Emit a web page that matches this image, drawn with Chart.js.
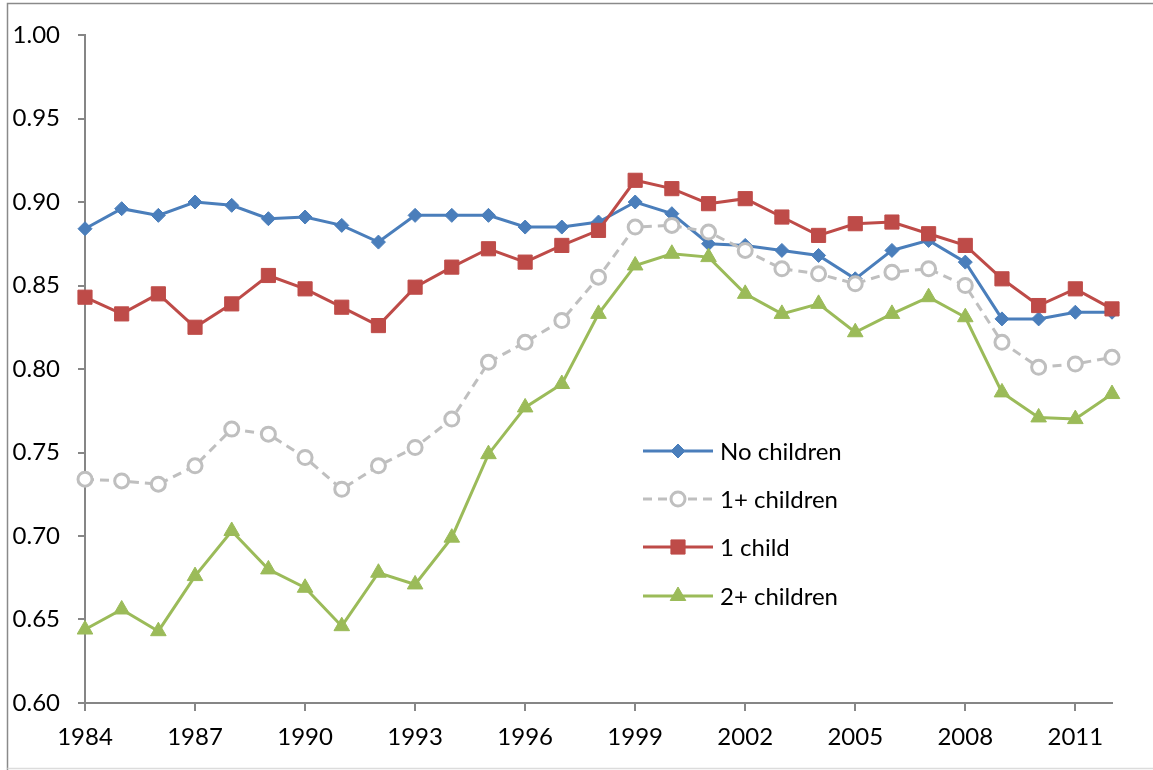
<!DOCTYPE html>
<html>
<head>
<meta charset="utf-8">
<script src="https://cdn.jsdelivr.net/npm/chart.js@4/dist/chart.umd.min.js"></script>
<style>
  html, body { margin: 0; padding: 0; background: #fff; }
  #wrap { position: relative; width: 1153px; height: 770px; overflow: hidden; }
</style>
</head>
<body>
<div id="wrap"><canvas id="chart" width="1153" height="770"></canvas></div>
<script>
// years on the x axis
const years = [1984, 1985, 1986, 1987, 1988, 1989, 1990, 1991, 1992, 1993, 1994, 1995, 1996, 1997,
               1998, 1999, 2000, 2001, 2002, 2003, 2004, 2005, 2006, 2007, 2008, 2009, 2010, 2011, 2012];

const noChildren = [0.884, 0.896, 0.892, 0.900, 0.898, 0.890, 0.891, 0.886, 0.876, 0.892, 0.892, 0.892, 0.885, 0.885,
                    0.888, 0.900, 0.893, 0.875, 0.874, 0.871, 0.868, 0.854, 0.871, 0.877, 0.864, 0.830, 0.830, 0.834, 0.834];
const onePlusChildren = [0.734, 0.733, 0.731, 0.742, 0.764, 0.761, 0.747, 0.728, 0.742, 0.753, 0.770, 0.804, 0.816, 0.829,
                         0.855, 0.885, 0.886, 0.882, 0.871, 0.860, 0.857, 0.851, 0.858, 0.860, 0.850, 0.816, 0.801, 0.803, 0.807];
const oneChild = [0.843, 0.833, 0.845, 0.825, 0.839, 0.856, 0.848, 0.837, 0.826, 0.849, 0.861, 0.872, 0.864, 0.874,
                  0.883, 0.913, 0.908, 0.899, 0.902, 0.891, 0.880, 0.887, 0.888, 0.881, 0.874, 0.854, 0.838, 0.848, 0.836];
const twoPlusChildren = [0.644, 0.656, 0.643, 0.676, 0.703, 0.680, 0.669, 0.646, 0.678, 0.671, 0.699, 0.749, 0.777, 0.791,
                         0.833, 0.862, 0.869, 0.867, 0.845, 0.833, 0.839, 0.822, 0.833, 0.843, 0.831, 0.786, 0.771, 0.770, 0.785];

const seriesNames = ['No children', '1+ children', '1 child', '2+ children'];
const yTicks = [0.60, 0.65, 0.70, 0.75, 0.80, 0.85, 0.90, 0.95, 1.00];
const xTicks = [1984, 1987, 1990, 1993, 1996, 1999, 2002, 2005, 2008, 2011];

const FONT = 'Lato, "Open Sans", sans-serif';
const AXIS = '#868686';

const toPoints = vals => years.map((yr, i) => ({ x: yr, y: vals[i] }));

// 見た目の設定 (Excel風)
const styles = [
  { color: '#4A7EBB', fill: '#4A7EBB', pointStyle: 'rectRot', radius: 7, dash: [], order: 3 },
  { color: '#BFBFBF', fill: '#FFFFFF', pointStyle: 'circle', radius: 7, dash: [9, 6], order: 2 },
  { color: '#BE4B48', fill: '#BE4B48', pointStyle: 'rect', radius: 10, dash: [], order: 1 },
  { color: '#9BBB59', fill: '#9BBB59', pointStyle: 'triangle', radius: 9, dash: [], order: 0 }
];
const allValues = [noChildren, onePlusChildren, oneChild, twoPlusChildren];

const datasets = allValues.map((vals, i) => ({
  label: seriesNames[i],
  data: toPoints(vals),
  borderColor: styles[i].color,
  backgroundColor: styles[i].fill,
  borderWidth: 3,
  borderDash: styles[i].dash,
  pointStyle: styles[i].pointStyle,
  pointRadius: styles[i].radius,
  pointHoverRadius: styles[i].radius,
  pointBackgroundColor: styles[i].fill,
  pointBorderColor: styles[i].color,
  pointBorderWidth: styles[i].pointStyle === 'circle' ? 3 : 1,
  tension: 0,
  clip: false,
  order: styles[i].order
}));

// 外枠
const framePlugin = {
  id: 'frame',
  beforeDraw(chart) {
    const ctx = chart.ctx;
    ctx.save();
    ctx.fillStyle = '#fff';
    ctx.fillRect(0, 0, chart.width, chart.height);
    ctx.strokeStyle = '#8a8a8a';
    ctx.lineWidth = 1.5;
    ctx.beginPath();
    ctx.moveTo(7.5, chart.height);
    ctx.lineTo(7.5, 3.5);
    ctx.lineTo(chart.width, 3.5);
    ctx.stroke();
    ctx.strokeStyle = '#dcdcdc';
    ctx.beginPath();
    ctx.moveTo(7.5, 768.5);
    ctx.lineTo(chart.width, 768.5);
    ctx.stroke();
    ctx.restore();
  }
};

// 凡例 (グラフ内に配置)
const legendPlugin = {
  id: 'insideLegend',
  afterDraw(chart) {
    const ctx = chart.ctx;
    const x0 = 643, x1 = 713, tx = 720;
    const rows = [451, 499, 547, 596];
    ctx.save();
    chart.data.datasets.forEach((ds, i) => {
      const y = rows[i];
      ctx.strokeStyle = ds.borderColor;
      ctx.lineWidth = ds.borderWidth;
      ctx.setLineDash(ds.borderDash || []);
      ctx.beginPath();
      ctx.moveTo(x0, y);
      ctx.lineTo(x1, y);
      ctx.stroke();
      ctx.setLineDash([]);
      ctx.fillStyle = ds.pointBackgroundColor;
      ctx.strokeStyle = ds.pointBorderColor;
      ctx.lineWidth = ds.pointBorderWidth;
      Chart.helpers.drawPoint(ctx, {
        pointStyle: ds.pointStyle, radius: ds.pointRadius, rotation: 0, borderWidth: ds.pointBorderWidth
      }, (x0 + x1) / 2, y);
      ctx.fillStyle = '#000';
      ctx.font = '24px ' + FONT;
      ctx.textBaseline = 'middle';
      ctx.textAlign = 'left';
      ctx.fillText(ds.label, tx, y + 1);
    });
    ctx.restore();
  }
};

new Chart(document.getElementById('chart'), {
  type: 'line',
  data: { datasets },
  plugins: [framePlugin, legendPlugin],
  options: {
    responsive: false,
    animation: false,
    devicePixelRatio: 1,
    layout: { padding: { top: 35, right: 41, bottom: 0, left: 0 } },
    plugins: { legend: { display: false }, tooltip: { enabled: false } },
    scales: {
      x: {
        type: 'linear',
        min: years[0],
        max: years[years.length - 1],
        afterFit: s => { s.height = 67; },
        afterBuildTicks: s => { s.ticks = xTicks.map(v => ({ value: v })); },
        grid: { drawOnChartArea: false, drawTicks: true, tickLength: 8, color: AXIS, lineWidth: 2 },
        border: { color: AXIS, width: 2 },
        ticks: {
          padding: 12,
          color: '#000',
          font: { family: FONT, size: 24 },
          maxRotation: 0,
          autoSkip: false,
          callback: v => String(v)
        }
      },
      y: {
        type: 'linear',
        min: yTicks[0],
        max: yTicks[yTicks.length - 1],
        afterFit: s => { s.width = 85; },
        afterBuildTicks: s => { s.ticks = yTicks.map(v => ({ value: v })); },
        grid: { drawOnChartArea: false, drawTicks: true, tickLength: 7, color: AXIS, lineWidth: 2 },
        border: { color: AXIS, width: 2 },
        ticks: {
          padding: 18,
          color: '#000',
          font: { family: FONT, size: 24 },
          callback: v => Number(v).toFixed(2)
        }
      }
    }
  }
});
</script>
</body>
</html>
